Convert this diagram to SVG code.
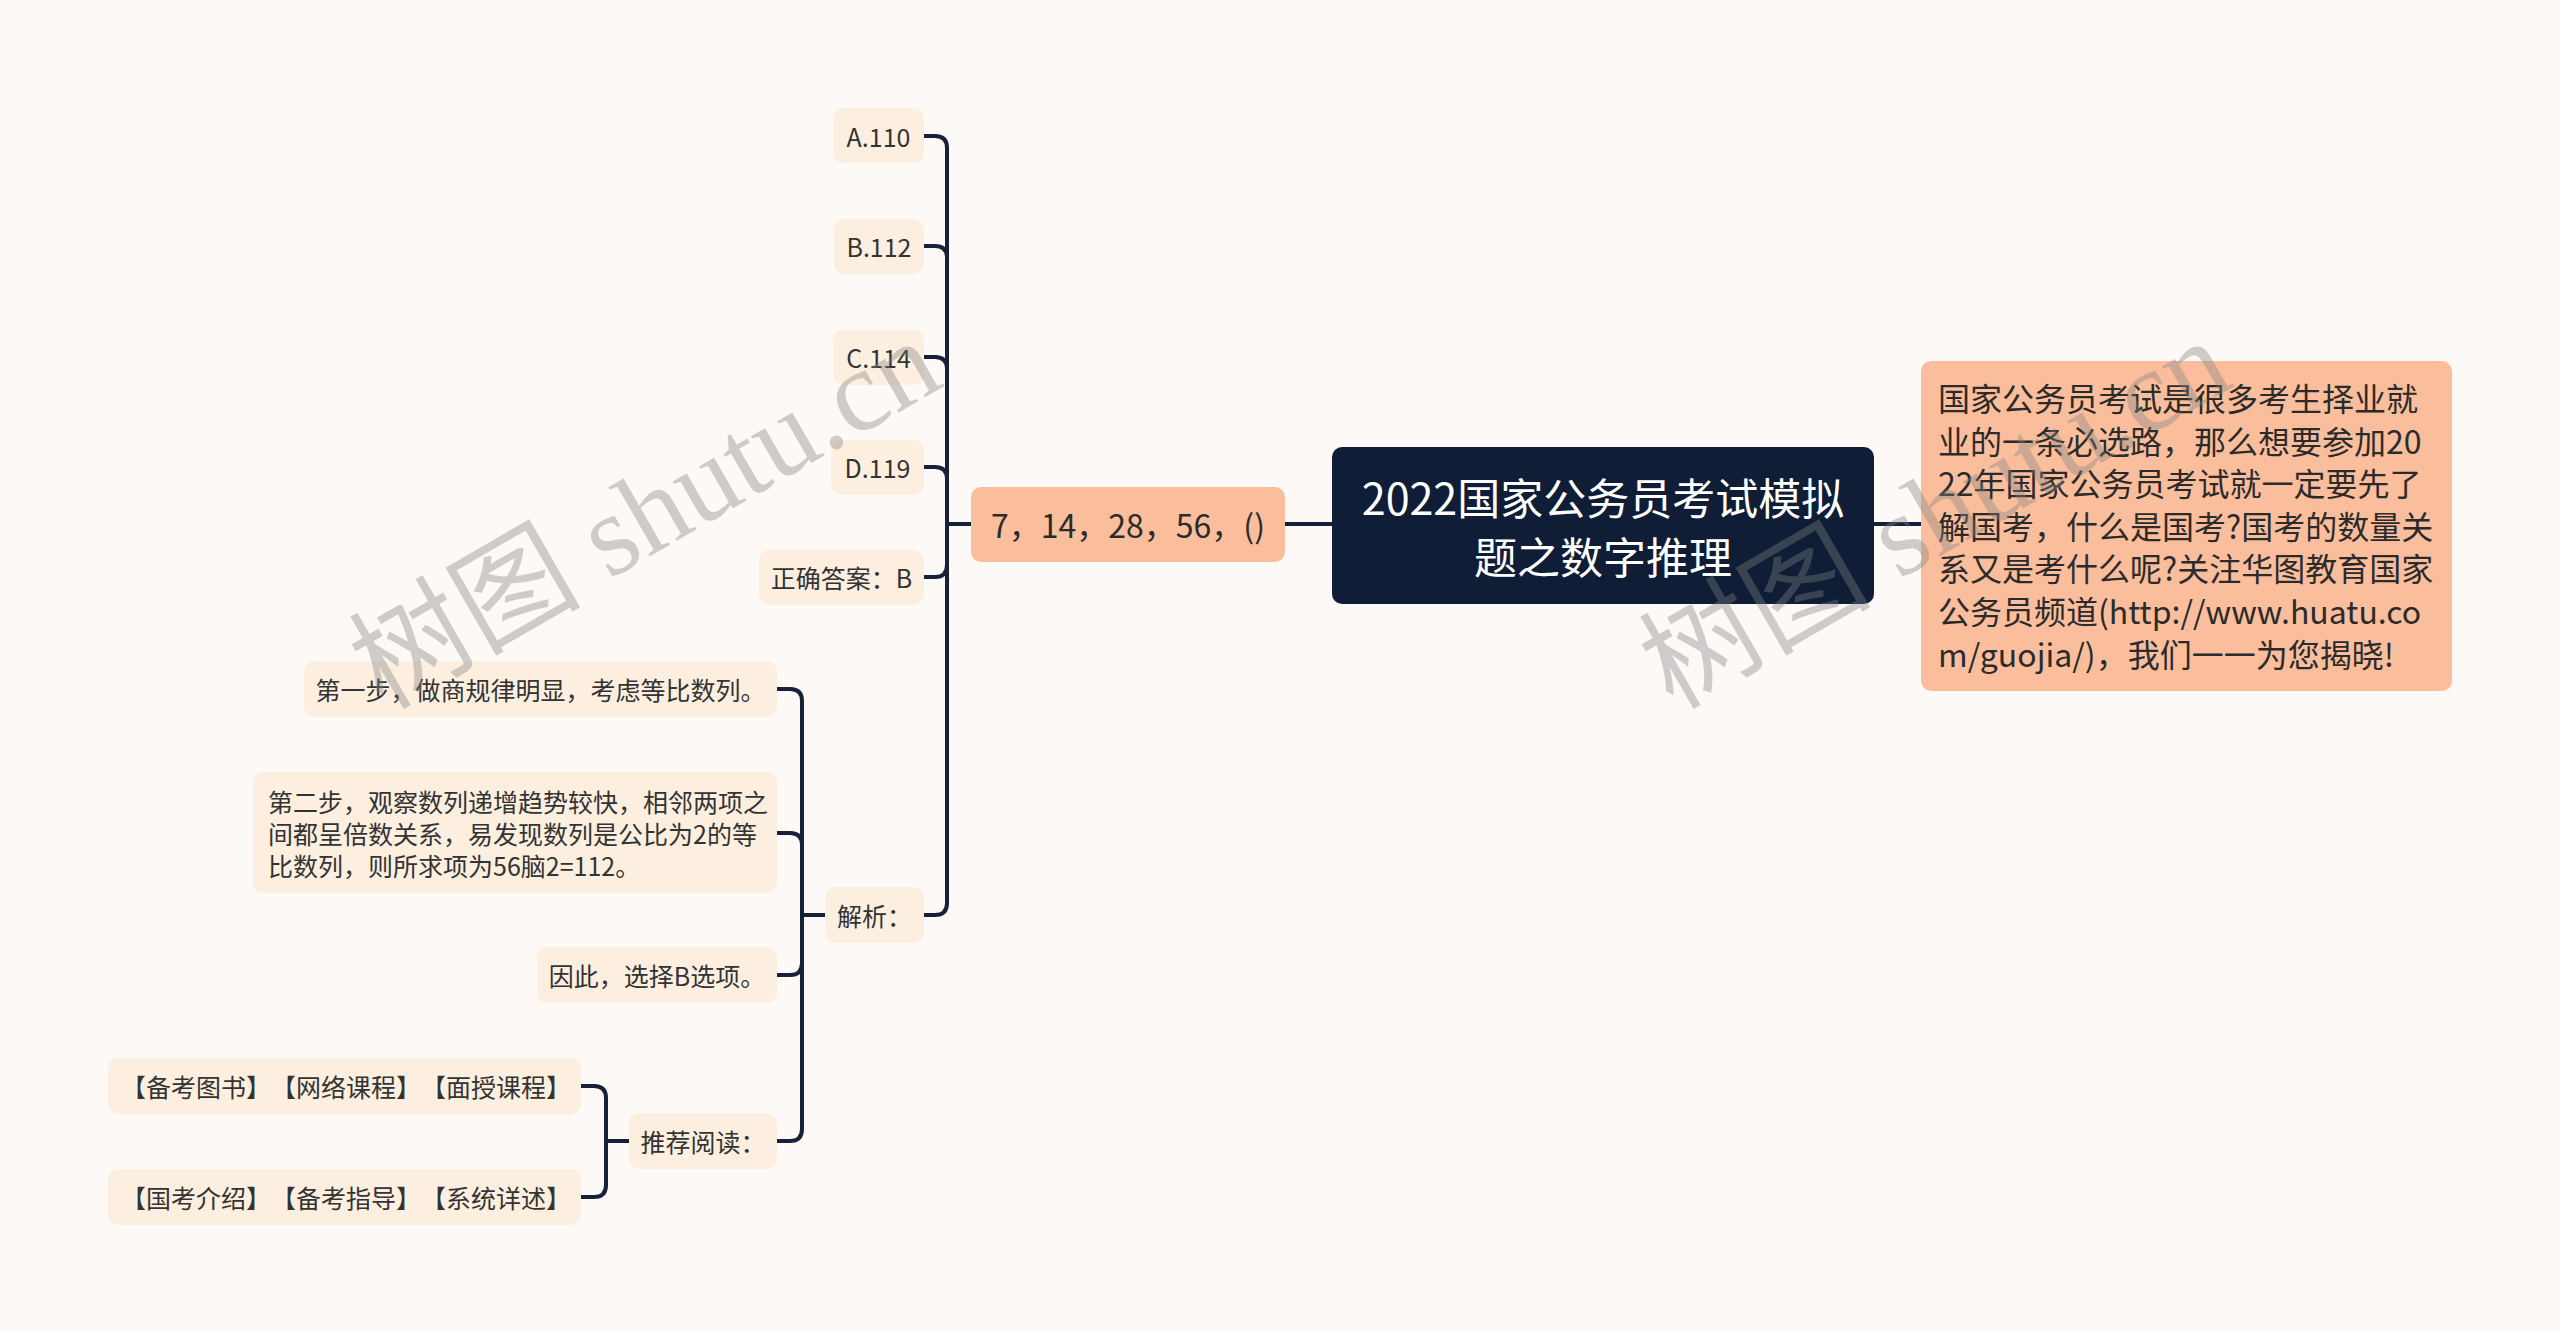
<svg xmlns="http://www.w3.org/2000/svg" width="2560" height="1332" viewBox="0 0 2560 1332">
<style>
  text { font-family: "Noto Sans CJK SC", "Noto Sans", sans-serif; dominant-baseline: central; text-spacing-trim: space-all; }
  .leaf rect { fill: #FDEFE0; }
  .leaf text { font-size: 25px; fill: #333333; text-anchor: middle; }
  .leaf text.l { text-anchor: start; }
  .sal rect { fill: #FBBE9C; }
  .sal text { font-size: 32px; fill: #2b2b2b; }
  .root rect { fill: #0F1E36; }
  .root text { font-size: 43px; fill: #ffffff; text-anchor: middle; }
  .conn path { fill: none; stroke: #17223A; stroke-width: 4; stroke-linecap: butt; }
  .wm { font-family: "Liberation Serif", "Noto Sans CJK SC", serif; font-size: 116px; fill: #808080; fill-opacity: 0.38; text-anchor: middle; }
</style>
<rect x="0" y="0" width="2560" height="1332" fill="#FDF9F7"/>

<g id="connectors" class="conn">
  <path d="M1332 524 H1285"/>
  <path d="M1874 524 H1921"/>
  <path d="M971 524 H947 V148 Q947 136 935 136 H924"/>
  <path d="M971 524 H947 V258 Q947 246 935 246 H924"/>
  <path d="M971 524 H947 V369 Q947 357 935 357 H924"/>
  <path d="M971 524 H947 V479 Q947 467 935 467 H924"/>
  <path d="M971 524 H947 V565 Q947 577 935 577 H924"/>
  <path d="M971 524 H947 V903 Q947 915 935 915 H924"/>
  <path d="M825 915 H802 V701 Q802 689 790 689 H777"/>
  <path d="M825 915 H802 V845 Q802 833 790 833 H777"/>
  <path d="M825 915 H802 V963 Q802 975 790 975 H777"/>
  <path d="M825 915 H802 V1129 Q802 1141 790 1141 H777"/>
  <path d="M629 1141 H606 V1098 Q606 1086 594 1086 H581"/>
  <path d="M629 1141 H606 V1185 Q606 1197 594 1197 H581"/>
</g>

<g id="root" class="root">
  <rect x="1332" y="447" width="542" height="157" rx="10"/>
  <text x="1603" y="496">2022国家公务员考试模拟</text>
  <text x="1603" y="555">题之数字推理</text>
</g>

<g id="intro" class="sal">
  <rect x="1921" y="361" width="531" height="330" rx="10"/>
  <text x="1938" y="397">国家公务员考试是很多考生择业就</text>
  <text x="1938" y="439.5">业的一条必选路，那么想要参加20</text>
  <text x="1938" y="482">22年国家公务员考试就一定要先了</text>
  <text x="1938" y="524.5">解国考，什么是国考?国考的数量关</text>
  <text x="1938" y="567">系又是考什么呢?关注华图教育国家</text>
  <text x="1938" y="610">公务员频道(http://www.huatu.co</text>
  <text x="1938" y="652.5">m/guojia/)，我们一一为您揭晓!</text>
</g>

<g id="question" class="sal">
  <rect x="971" y="487" width="314" height="75" rx="10"/>
  <text x="1128" y="524" text-anchor="middle">7，14，28，56，()</text>
</g>

<g id="optA" class="leaf"><rect x="833" y="108" width="91" height="55" rx="10"/><text x="878.5" y="136">A.110</text></g>
<g id="optB" class="leaf"><rect x="834" y="219" width="90" height="55" rx="10"/><text x="879" y="246">B.112</text></g>
<g id="optC" class="leaf"><rect x="833" y="330" width="91" height="55" rx="10"/><text x="878.5" y="357">C.114</text></g>
<g id="optD" class="leaf"><rect x="831" y="440" width="93" height="55" rx="10"/><text x="877.5" y="467">D.119</text></g>
<g id="answer" class="leaf"><rect x="759" y="550" width="165" height="55" rx="10"/><text x="841.5" y="577">正确答案：B</text></g>
<g id="analysis" class="leaf"><rect x="825" y="887" width="99" height="56" rx="10"/><text x="874.5" y="915">解析：</text></g>

<g id="step1" class="leaf"><rect x="304" y="661" width="473" height="56" rx="10"/><text x="540.5" y="689">第一步，做商规律明显，考虑等比数列。</text></g>
<g id="step2" class="leaf">
  <rect x="253" y="772" width="524" height="121" rx="10"/>
  <text class="l" x="268" y="800.5">第二步，观察数列递增趋势较快，相邻两项之</text>
  <text class="l" x="268" y="832.5">间都呈倍数关系，易发现数列是公比为2的等</text>
  <text class="l" x="268" y="864.5">比数列，则所求项为56脑2=112。</text>
</g>
<g id="step3" class="leaf"><rect x="537" y="947" width="240" height="56" rx="10"/><text x="657" y="975">因此，选择B选项。</text></g>
<g id="recommend" class="leaf"><rect x="629" y="1113" width="148" height="56" rx="10"/><text x="703" y="1141">推荐阅读：</text></g>

<g id="links1" class="leaf"><rect x="108" y="1058" width="473" height="56" rx="10"/><text x="346" y="1086" textLength="450" lengthAdjust="spacing">【备考图书】【网络课程】【面授课程】</text></g>
<g id="links2" class="leaf"><rect x="108" y="1169" width="473" height="56" rx="10"/><text x="346" y="1197" textLength="450" lengthAdjust="spacing">【国考介绍】【备考指导】【系统详述】</text></g>

<g id="watermarks">
  <text class="wm" transform="translate(645 514) rotate(-30)" x="0" y="0">树图 shutu.cn</text>
  <text class="wm" transform="translate(1935 514) rotate(-30)" x="0" y="0">树图 shutu.cn</text>
</g>
</svg>
